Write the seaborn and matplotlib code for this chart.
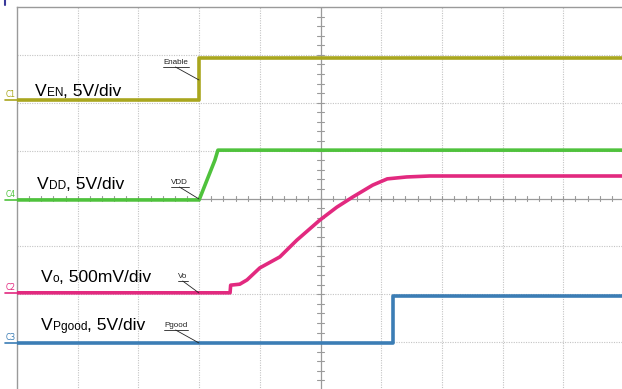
import numpy as np
import pandas as pd
import matplotlib
matplotlib.use("Agg")
import matplotlib.pyplot as plt
from matplotlib.lines import Line2D
import seaborn as sns

# ---- data (time and level in scope divisions: 10 div wide, 8 div tall) ----
ven_t = [0, 3.0, 3.0, 10]
ven_v = [6.06, 6.06, 6.93, 6.93]
vdd_t = [0, 3.0, 3.26, 3.31, 10]
vdd_v = [3.97, 3.97, 4.80, 5.01, 5.01]
vo_t = [0, 3.51, 3.52, 3.67, 3.79, 4.0, 4.33, 4.61, 4.99, 5.27, 5.53, 5.86, 6.10, 6.42, 6.8, 10]
vo_v = [2.03, 2.03, 2.19, 2.21, 2.30, 2.55, 2.78, 3.13, 3.55, 3.82, 4.03, 4.28, 4.41, 4.45, 4.47, 4.47]
pg_t = [0, 6.19, 6.19, 10]
pg_v = [0.98, 0.98, 1.96, 1.96]

channels = ["C1", "C4", "C2", "C3"]
colors = ["#a9a61e", "#4fc23c", "#e2297f", "#3b7db5"]
labels_main = [("V", "EN", ", 5V/div"), ("V", "DD", ", 5V/div"),
               ("V", "o", ", 500mV/div"), ("V", "Pgood", ", 5V/div")]
tags = ["Enable", "VDD", "Vo", "Pgood"]

W, H = 622, 389
sns.set_style("white")
plt.rcParams["font.family"] = ["Liberation Sans", "DejaVu Sans"]

fig = plt.figure(figsize=(W / 100, H / 100), dpi=100)
ax = fig.add_axes([17 / W, -1 / H, 607 / W, 383 / H])
ax.set_xlim(0, 10)
ax.set_ylim(0, 8)

# grid
for i in range(1, 10):
    if i == 5:
        ax.axvline(i, color="#9a9a9a", lw=0.9, zorder=1)
    else:
        ax.axvline(i, color="#c4c4c4", lw=0.8, ls=(0, (1, 1.2)), zorder=1)
for j in range(1, 8):
    if j == 4:
        ax.axhline(j, color="#9a9a9a", lw=0.9, zorder=1)
    else:
        ax.axhline(j, color="#c4c4c4", lw=0.8, ls=(0, (1, 1.2)), zorder=1)
for xm in np.arange(0, 10.01, 0.2):
    ax.plot([xm, xm], [4 - 0.06, 4 + 0.06], color="#9a9a9a", lw=0.8, zorder=1)
for ym in np.arange(0, 8.01, 0.2):
    ax.plot([5 - 0.05, 5 + 0.05], [ym, ym], color="#9a9a9a", lw=0.8, zorder=1)

# traces
series = [(ven_t, ven_v), (vdd_t, vdd_v), (vo_t, vo_v), (pg_t, pg_v)]
for (t, v), c, ch in zip(series, colors, channels):
    df = pd.DataFrame({"t": t, "v": v})
    sns.lineplot(data=df, x="t", y="v", ax=ax, color=c, lw=2.6, sort=False,
                 estimator=None, zorder=3, legend=False)

ax.set_xticks([])
ax.set_yticks([])
ax.set_xlabel("")
ax.set_ylabel("")
for s in ["right", "bottom"]:
    ax.spines[s].set_visible(False)
for s in ["top", "left"]:
    ax.spines[s].set_color("#9a9a9a")
    ax.spines[s].set_linewidth(1.0)


def fx(x):
    return x / W


def fy(y):
    return 1 - y / H


renderer = fig.canvas.get_renderer()


def main_label(parts, x, y):
    cx = x
    sizes = [12.6, 8.6, 12.6]
    for s, sz in zip(parts, sizes):
        t = fig.text(fx(cx), fy(y), s, fontsize=sz, va="baseline", ha="left", color="black")
        cx += t.get_window_extent(renderer).width


main_pos = [(35, 96), (37, 189), (41, 282), (41, 330)]
for parts, (x, y) in zip(labels_main, main_pos):
    main_label(parts, x, y)

# small callout tags
tag_pos = [(163, 64), (171, 184), (178, 278), (164, 327)]
tag_targets = [(199, 80), (199, 199), (199, 293), (199, 343)]
for tag, (x, y), (tx, ty) in zip(tags, tag_pos, tag_targets):
    t = fig.text(fx(x), fy(y), tag, fontsize=5.8, va="baseline", ha="left", color="#222222")
    w = t.get_window_extent(renderer).width
    uy = y + 3
    fig.add_artist(Line2D([fx(x), fx(x + w + 1)], [fy(uy), fy(uy)], color="#222222", lw=0.6,
                          transform=fig.transFigure))
    fig.add_artist(Line2D([fx(x + w * 0.5), fx(tx)], [fy(uy), fy(ty)], color="#222222", lw=0.6,
                          transform=fig.transFigure))

# channel markers on the left
for (t, v), c, ch in zip(series, colors, channels):
    ypx = (8 - v[0]) * 383 / 8 + 7
    fig.text(fx(6), fy(ypx - 3), ch, fontsize=5.5, va="baseline", ha="left", color=c,
             family="DejaVu Sans")
    fig.add_artist(Line2D([fx(5), fx(17)], [fy(ypx), fy(ypx)], color=c, lw=1.2,
                          transform=fig.transFigure))

# trigger marker
fig.add_artist(Line2D([fx(5), fx(5)], [fy(0), fy(5)], color="#3a3a9a", lw=1.5,
                      transform=fig.transFigure))

fig.savefig("out.png", dpi=100)
